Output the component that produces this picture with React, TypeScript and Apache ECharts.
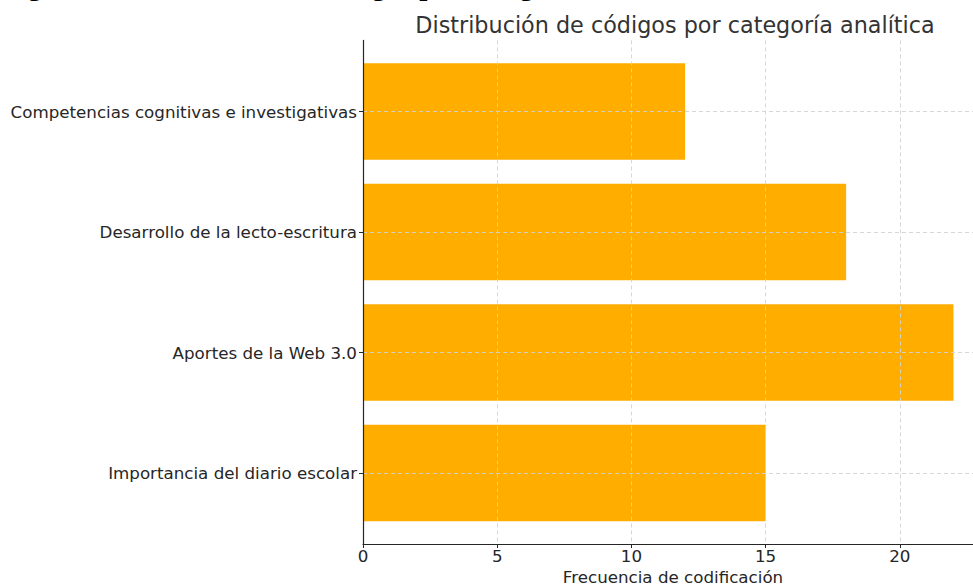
import React, { useEffect, useRef } from "react";
import * as echarts from "echarts";

const categories = [
  "Competencias cognitivas e investigativas",
  "Desarrollo de la lecto-escritura",
  "Aportes de la Web 3.0",
  "Importancia del diario escolar",
];
const frequencies = [12, 18, 22, 15];
const xTicks = [0, 5, 10, 15, 20];
const chartTitle = "Distribución de códigos por categoría analítica";
const xAxisName = "Frecuencia de codificación";
const figureCaption = "Figura 2. Distribución de códigos por categoría analítica";

const FONT = "DejaVu Sans";
const TEXT = "#262626";
const SPINE = "#262626";
const GRID = "#d3d3d3";
const BAR = "#FFAE00";

export default function App() {
  const ref = useRef<HTMLDivElement>(null);
  useEffect(() => {
    if (!ref.current) return;
    const chart = echarts.init(ref.current, undefined, { renderer: "svg" });
    const xMax = 23.1;
    chart.setOption({
      animation: false,
      backgroundColor: "#ffffff",
      title: {
        text: chartTitle,
        left: 670,
        top: 9,
        textAlign: "center",
        textStyle: { fontFamily: FONT, fontSize: 22.3, fontWeight: "normal", color: "#333" },
      },
      graphic: [
        {
          type: "text",
          left: 2,
          top: -30,
          silent: true,
          style: {
            text: figureCaption,
            font: 'bold 29px "Liberation Serif"',
            fill: "#000",
          },
        },
      ],
      grid: [
        { left: 363, top: 40.4, width: 620, height: 503.6, containLabel: false, outerBoundsMode: "none" },
        { left: 363, top: 51.25, width: 620, height: 482, containLabel: false, outerBoundsMode: "none" },
      ],
      xAxis: [
        {
          gridIndex: 0,
          type: "value",
          min: 0,
          max: xMax,
          interval: 5,
          z: 10,
          axisLine: { show: true, lineStyle: { color: SPINE, width: 1.2 } },
          axisTick: { show: true, length: 4, customValues: xTicks, lineStyle: { color: SPINE, width: 1 } },
          axisLabel: {
            fontFamily: FONT,
            fontSize: 16.7,
            color: TEXT,
            margin: 3,
            customValues: xTicks,
          },
          splitLine: { show: true, lineStyle: { color: GRID, type: [4, 3], width: 0.9 } },
          name: xAxisName,
          nameLocation: "middle",
          nameGap: 24,
          nameTextStyle: { fontFamily: FONT, fontSize: 16.7, color: TEXT },
        },
        {
          gridIndex: 1,
          type: "value",
          min: 0,
          max: xMax,
          show: false,
        },
      ],
      yAxis: [
        {
          gridIndex: 0,
          type: "value",
          min: 0,
          max: 1,
          z: 10,
          axisLine: { show: true, lineStyle: { color: SPINE, width: 1.2 } },
          axisTick: { show: false },
          axisLabel: { show: false },
          splitLine: { show: false },
        },
        {
          gridIndex: 1,
          type: "category",
          inverse: true,
          data: categories,
          axisLine: { show: false },
          axisTick: { show: true, alignWithLabel: true, length: 4, lineStyle: { color: SPINE, width: 1 } },
          axisLabel: { fontFamily: FONT, fontSize: 16.7, color: TEXT, margin: 6 },
          splitLine: { show: false },
        },
      ],
      series: [
        {
          type: "bar",
          xAxisIndex: 1,
          yAxisIndex: 1,
          data: frequencies,
          barCategoryGap: "20%",
          itemStyle: { color: BAR },
          z: 2,
          markLine: {
            silent: true,
            symbol: "none",
            label: { show: false },
            lineStyle: { color: GRID, type: [4, 3], width: 0.9 },
            data: categories.map((c) => ({ yAxis: c })),
          },
        },
      ],
    });
    return () => chart.dispose();
  }, []);
  return (
    <div
      ref={ref}
      style={{ position: "fixed", left: 0, top: 0, width: 973, height: 586, background: "#fff" }}
    />
  );
}
